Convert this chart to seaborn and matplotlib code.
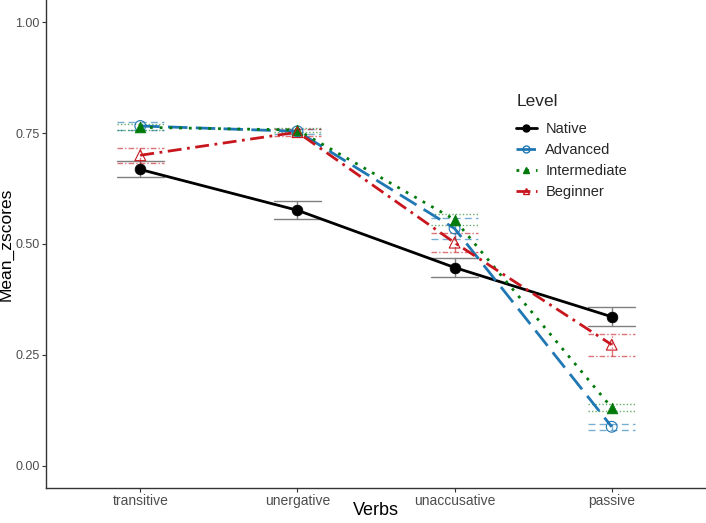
# Mean z-scores by verb type and proficiency level
import numpy as np
import pandas as pd
import matplotlib
matplotlib.use("Agg")
import matplotlib.pyplot as plt
from matplotlib.lines import Line2D
import seaborn as sns

sns.set_theme(style="white")
plt.rcParams['font.family'] = ['Liberation Sans', 'DejaVu Sans']

# data
verbs = ['transitive', 'unergative', 'unaccusative', 'passive']
levels = ['Native', 'Advanced', 'Intermediate', 'Beginner']
native_mean = [0.668, 0.576, 0.447, 0.336]
native_se = [0.018, 0.020, 0.021, 0.021]
advanced_mean = [0.766, 0.754, 0.535, 0.088]
advanced_se = [0.008, 0.006, 0.024, 0.007]
intermediate_mean = [0.763, 0.757, 0.555, 0.131]
intermediate_se = [0.007, 0.005, 0.013, 0.008]
beginner_mean = [0.700, 0.752, 0.503, 0.273]
beginner_se = [0.017, 0.008, 0.022, 0.025]

means = [native_mean, advanced_mean, intermediate_mean, beginner_mean]
ses = [native_se, advanced_se, intermediate_se, beginner_se]

rows = []
for lev, m, s in zip(levels, means, ses):
    for i, v in enumerate(verbs):
        rows.append({'Verbs': v, 'x': i, 'Level': lev, 'Mean_zscores': m[i], 'se': s[i]})
df = pd.DataFrame(rows)

# styles
colors = {'Native': '#000000', 'Advanced': '#1F77B4', 'Intermediate': '#007A0A', 'Beginner': '#C8161E'}
dashes = {'Native': (None, None), 'Advanced': (7, 3), 'Intermediate': (1, 2.5), 'Beginner': (5, 2, 1, 2)}
err_ls = {'Native': '-', 'Advanced': (0, (5, 3)), 'Intermediate': (0, (1, 1.5)), 'Beginner': (0, (4, 1.5, 1, 1.5))}
markers = {'Native': 'o', 'Advanced': 'o', 'Intermediate': '^', 'Beginner': '^'}
filled = {'Native': True, 'Advanced': False, 'Intermediate': True, 'Beginner': False}

fig = plt.figure(figsize=(7.06, 5.23), dpi=100)
ax = fig.add_axes([46 / 706, 1 - 488 / 523, 660 / 706, 488 / 523])

# error bars
half_w = 0.15
for lev in levels:
    d = df[df['Level'] == lev]
    ecol = '#7F7F7F' if lev == 'Native' else colors[lev]
    alpha = 1.0 if lev == 'Native' else 0.6
    for _, r in d.iterrows():
        lo, hi = r['Mean_zscores'] - r['se'], r['Mean_zscores'] + r['se']
        ax.plot([r['x'], r['x']], [lo, hi], color=ecol, lw=1.0, ls=err_ls[lev], alpha=alpha, zorder=2)
        for yy in (lo, hi):
            ax.plot([r['x'] - half_w, r['x'] + half_w], [yy, yy], color=ecol, lw=1.0,
                    ls=err_ls[lev], alpha=alpha, zorder=2)

# lines
sns.lineplot(data=df, x='x', y='Mean_zscores', hue='Level', style='Level',
             hue_order=levels, style_order=levels, palette=colors, dashes=dashes,
             lw=2, legend=False, ax=ax, zorder=3)

# points
for lev in levels:
    d = df[df['Level'] == lev]
    ax.scatter(d['x'], d['Mean_zscores'], marker=markers[lev], s=60,
               facecolors=colors[lev] if filled[lev] else 'none',
               edgecolors=colors[lev], linewidths=0.8 if not filled[lev] else 0.5, zorder=4)

ax.set_xlim(-0.6, 3.6)
ax.set_ylim(-0.05, 1.05)
ax.set_xticks(range(len(verbs)))
ax.set_xticklabels(verbs)
ax.set_yticks([0, 0.25, 0.5, 0.75, 1.0])
ax.set_yticklabels(['0.00', '0.25', '0.50', '0.75', '1.00'])
ax.tick_params(axis='both', which='both', length=3, width=0.8, color='#333333',
               labelcolor='#4D4D4D', labelsize=10, direction='out', bottom=True, left=True, pad=1.5)
ax.tick_params(axis='y', labelsize=9)
ax.set_xlabel('Verbs', fontsize=13, color='black')
ax.set_ylabel('Mean_zscores', fontsize=12.5, color='black')
ax.xaxis.set_label_coords(0.5, -(502 - 488) / 488)
ax.yaxis.set_label_coords(-(46 - 14) / 660, 0.5)
for side in ['top', 'right']:
    ax.spines[side].set_visible(False)
for side in ['left', 'bottom']:
    ax.spines[side].set_color('#333333')
    ax.spines[side].set_linewidth(1.0)

handles = []
for lev in levels:
    handles.append(Line2D([0], [0], color=colors[lev], lw=2,
                          dashes=dashes[lev] if lev != 'Native' else (None, None),
                          marker=markers[lev], markersize=5,
                          markerfacecolor=colors[lev] if filled[lev] else 'none',
                          markeredgecolor=colors[lev]))
leg = ax.legend(handles, levels, title='Level', loc='upper left',
                bbox_to_anchor=((503 - 46) / 660, 1 - 81 / 488), frameon=False,
                fontsize=10.5, title_fontsize=12.5, handlelength=1.4, handletextpad=0.6,
                labelspacing=0.5)
leg._legend_box.align = 'left'
leg._legend_box.sep = 9

fig.savefig('out.png', dpi=100)
